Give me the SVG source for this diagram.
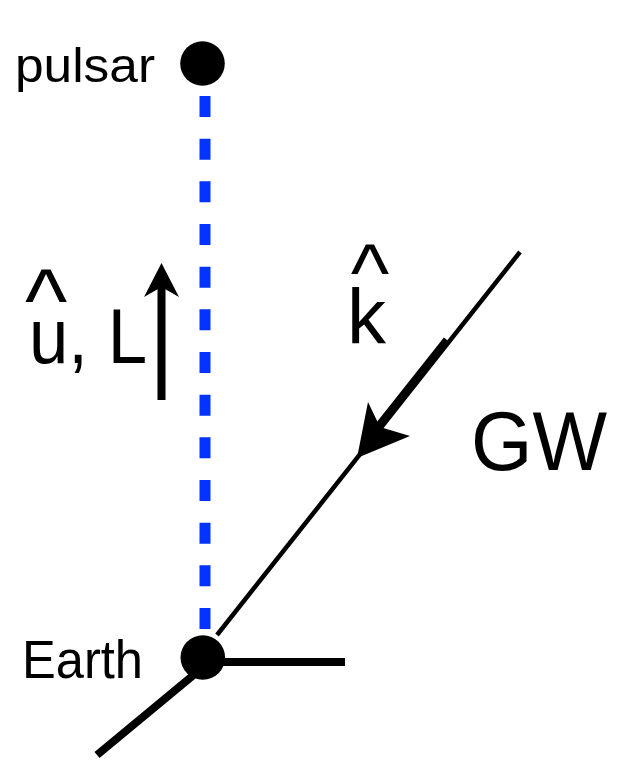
<svg xmlns="http://www.w3.org/2000/svg" width="618" height="761" viewBox="0 0 618 761">
<style>
.lbl{font-family:"Liberation Sans",Arial,sans-serif;fill:#000}
.dot{fill:#000}
.thin{stroke:#000;stroke-width:4.5;fill:none}
.thick{stroke:#000;stroke-width:8;fill:none}
.blue{stroke:#0433ff;stroke-width:11;stroke-dasharray:21 21.67;fill:none}
</style>
<rect width="618" height="761" fill="#fff"/>
<g id="connectors">
<line id="los" class="blue" x1="205" y1="96" x2="205" y2="629"/>
<line id="gw-line" class="thin" x1="520" y1="252" x2="217" y2="635"/>
<line id="gw-shaft" class="thick" stroke-width="9" x1="447" y1="340" x2="378" y2="427"/>
<polygon id="gw-head" fill="#000" points="357,458 368,402 380,427 410,436"/>
<line id="lower" class="thick" x1="97" y1="755" x2="196" y2="673"/>
<line id="horiz" class="thick" x1="203" y1="662" x2="345" y2="662"/>
<line id="u-shaft" class="thick" stroke-width="7" x1="161.5" y1="400" x2="161.5" y2="285"/>
<polygon id="u-head" fill="#000" points="161.5,263 179,297 161.5,287 144,297"/>
</g>
<g id="pulsar">
<circle class="dot" cx="202.5" cy="63.5" r="22.3"/>
<text class="lbl" x="15" y="82" font-size="48" textLength="140" lengthAdjust="spacingAndGlyphs">pulsar</text>
</g>
<g id="earth">
<circle class="dot" cx="202.8" cy="657.5" r="22.3"/>
<text class="lbl" x="22" y="678" font-size="54" textLength="121" lengthAdjust="spacingAndGlyphs">Earth</text>
</g>
<g id="u-label">
<text class="lbl"><tspan x="46" y="332" font-size="90" text-anchor="middle">^</tspan><tspan x="29" y="363" font-size="78" textLength="118" lengthAdjust="spacingAndGlyphs">u, L</tspan></text>
</g>
<g id="k-label">
<text class="lbl"><tspan x="370" y="301" font-size="82" text-anchor="middle">^</tspan><tspan x="347" y="344" font-size="78">k</tspan></text>
</g>
<g id="gw-label">
<text class="lbl" x="471" y="470" font-size="84" textLength="136" lengthAdjust="spacingAndGlyphs">GW</text>
</g>
</svg>
